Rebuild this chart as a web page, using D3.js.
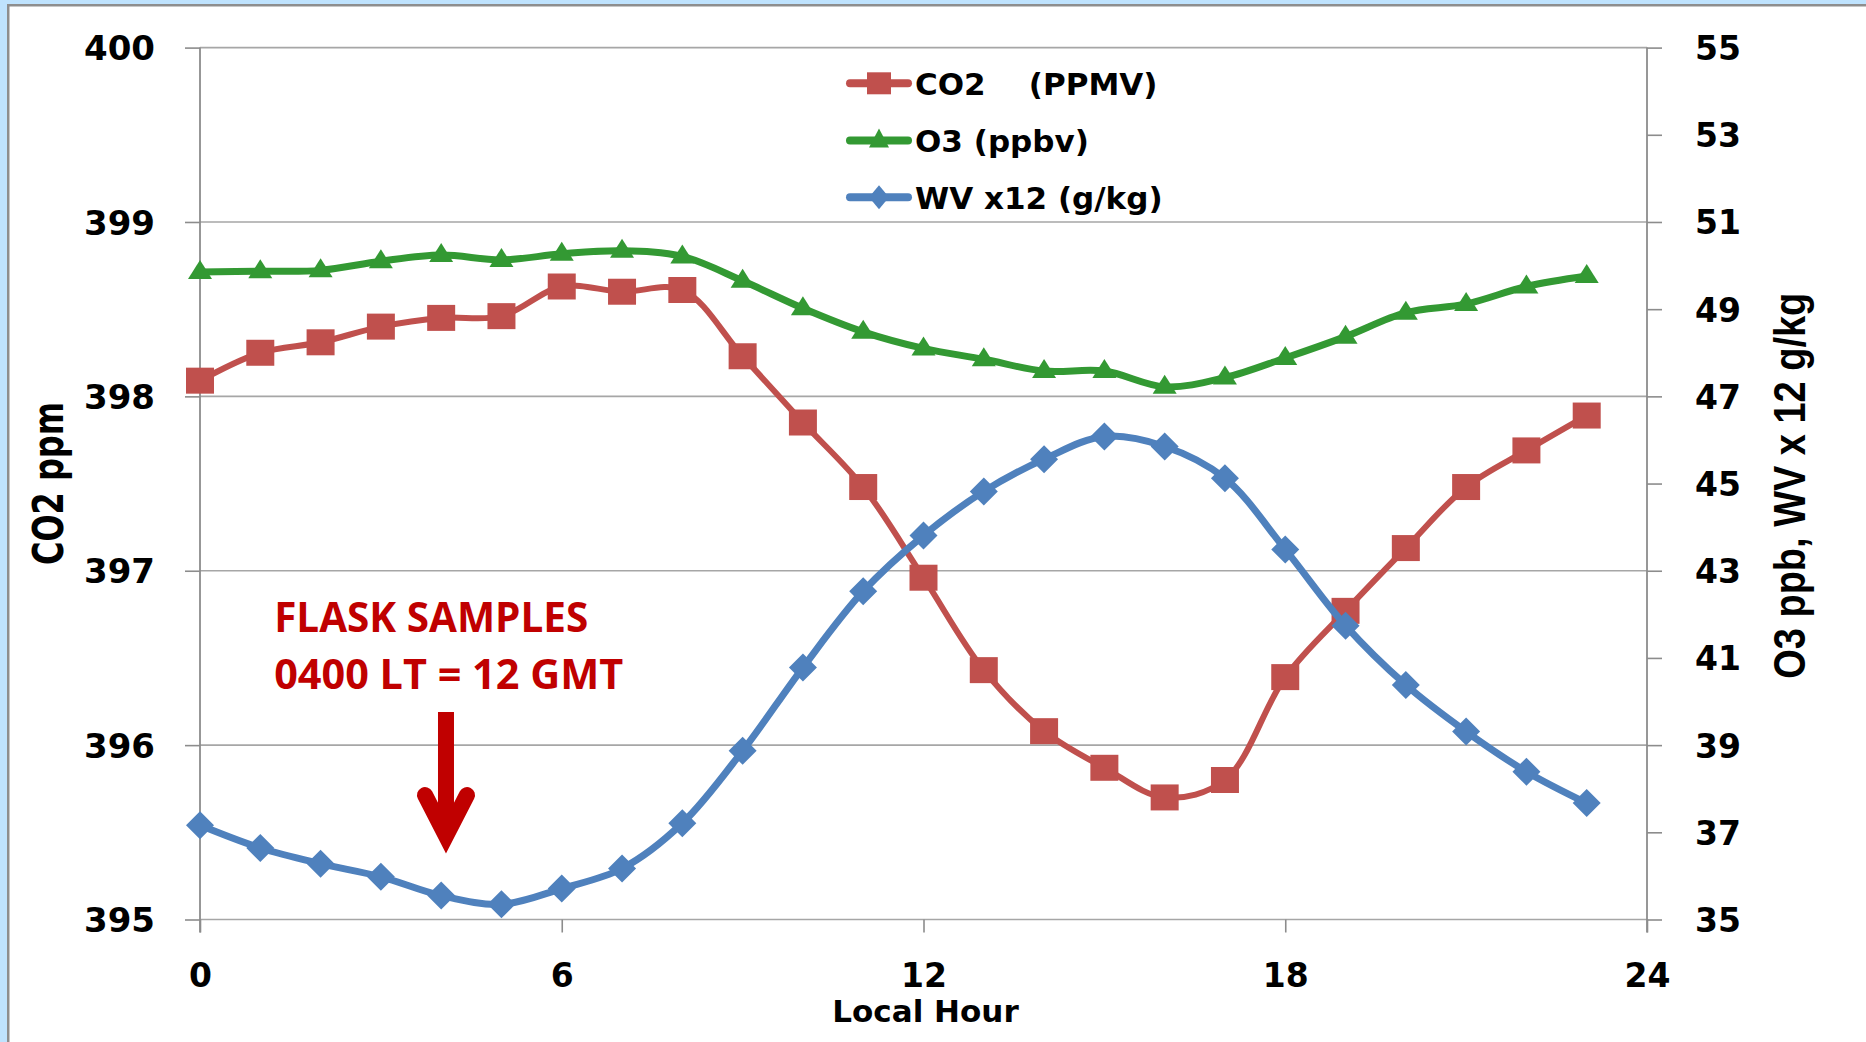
<!DOCTYPE html>
<meta charset="utf-8">
<style>
body { margin: 0; background: #fff; }
svg text { font-family: "DejaVu Sans", sans-serif; font-weight: bold; fill: #000; }
.grid line { stroke: #a6a6a6; stroke-width: 1.6px; }
.axis path { display: none; }
.axis line { stroke: #8c8c8c; stroke-width: 1.6px; }
.vline { stroke: #8c8c8c; stroke-width: 1.8px; }
</style>
<svg width="1866" height="1042"></svg>
<script src="https://d3js.org/d3.v7.min.js"></script>
<script>

// hourly means
var hours = [0, 1, 2, 3, 4, 5, 6, 7, 8, 9, 10, 11, 12, 13, 14, 15, 16, 17, 18, 19, 20, 21, 22, 23];
var co2 = [398.09, 398.25, 398.31, 398.40, 398.45, 398.46, 398.63, 398.60, 398.61, 398.23, 397.85, 397.48,
           396.96, 396.43, 396.08, 395.87, 395.70, 395.80, 396.39, 396.77, 397.13, 397.48, 397.69, 397.89];
var o3 = [49.85, 49.87, 49.89, 50.10, 50.24, 50.13, 50.27, 50.34, 50.21, 49.65, 49.02, 48.48,
          48.10, 47.85, 47.58, 47.58, 47.22, 47.43, 47.88, 48.37, 48.92, 49.12, 49.52, 49.76];
var wv = [37.16, 36.64, 36.28, 35.98, 35.55, 35.35, 35.71, 36.17, 37.21, 38.87, 40.78, 42.53,
          43.81, 44.82, 45.56, 46.08, 45.85, 45.12, 43.49, 41.74, 40.38, 39.31, 38.39, 37.67];

var leftTicks = [395, 396, 397, 398, 399, 400];
var rightTicks = [35, 37, 39, 41, 43, 45, 47, 49, 51, 53, 55];
var xTicks = [0, 6, 12, 18, 24];

var seriesNames = ["CO2    (PPMV)", "O3 (ppbv)", "WV x12 (g/kg)"];
var colors = ["#c0504d", "#339933", "#4f81bd"];

var svg = d3.select("svg");
var W = 1866, H = 1042;
var plotL = 200, plotR = 1647, plotT = 47.6, plotB = 919.5;

// slide frame
svg.append("rect").attr("width", W).attr("height", H).attr("fill", "#bfe3fe");
svg.append("rect").attr("x", 7).attr("y", 4).attr("width", W - 7).attr("height", H - 4).attr("fill", "#8e8e8e");
svg.append("rect").attr("x", 9.5).attr("y", 6.5).attr("width", W - 9.5).attr("height", H - 6.5).attr("fill", "#fff");

var x = d3.scaleLinear().domain([0, 24]).range([plotL, plotR]);
var yL = d3.scaleLinear().domain([395, 400]).range([plotB, plotT]);
var yR = d3.scaleLinear().domain([35, 55]).range([plotB, plotT]);

// horizontal gridlines
svg.append("g").attr("class", "grid")
  .selectAll("line").data(leftTicks).enter().append("line")
  .attr("x1", plotL).attr("x2", plotR)
  .attr("y1", function(d) { return yL(d); })
  .attr("y2", function(d) { return yL(d); });

// axis lines
svg.append("line").attr("class", "vline").attr("x1", plotL).attr("x2", plotL).attr("y1", plotT).attr("y2", plotB + 13);
svg.append("line").attr("class", "vline").attr("x1", plotR).attr("x2", plotR).attr("y1", plotT).attr("y2", plotB + 13);

var gl = svg.append("g").attr("class", "axis").attr("transform", "translate(" + plotL + ",0)")
  .call(d3.axisLeft(yL).tickValues(leftTicks).tickSize(15).tickPadding(30).tickFormat(d3.format("d")));
gl.selectAll("text").style("font-size", "34px").attr("dy", "0.36em");

var gr = svg.append("g").attr("class", "axis").attr("transform", "translate(" + plotR + ",0)")
  .call(d3.axisRight(yR).tickValues(rightTicks).tickSize(15).tickPadding(33).tickFormat(d3.format("d")));
gr.selectAll("text").style("font-size", "33px").attr("dy", "0.36em");

var gx = svg.append("g").attr("class", "axis").attr("transform", "translate(0," + plotB + ")")
  .call(d3.axisBottom(x).tickValues(xTicks).tickSize(13).tickFormat(d3.format("d")));
gx.selectAll("text").style("font-size", "33px").attr("dy", null).attr("y", 67.5);
svg.selectAll(".axis").attr("font-family", null).attr("font-size", null);

// axis titles
svg.append("text").attr("text-anchor", "middle")
  .attr("transform", "translate(62.5,483.5) scale(1.35,1) rotate(-90)")
  .style("font-size", "32px").text("CO2 ppm");

svg.append("text").attr("text-anchor", "middle")
  .attr("transform", "translate(1805,485.7) rotate(-90)")
  .attr("textLength", 386).attr("lengthAdjust", "spacingAndGlyphs")
  .style("font-family", "'Liberation Sans', Arial, sans-serif").style("font-size", "44px")
  .text("O3 ppb, WV x 12 g/kg");

svg.append("text").attr("text-anchor", "middle")
  .attr("x", x(12) + 2).attr("y", 1022)
  .style("font-size", "31px").text("Local Hour");

// marker shapes
function markerPath(kind) {
  if (kind === 0) return "M-14,-13H14V13H-14Z";
  if (kind === 1) return "M0,-12L12,7H-12Z";
  return "M0,-14L14,0L0,14L-14,0Z";
}
function legendMarker(kind) {
  if (kind === 0) return "M-12,-11H12V11H-12Z";
  if (kind === 1) return "M0,-12L10,7H-10Z";
  return "M0,-12L10,0L0,12L-10,0Z";
}

var line = d3.line().curve(d3.curveCatmullRom.alpha(0.5));

var series = [
  { values: co2, y: yL, width: 6 },
  { values: o3, y: yR, width: 7 },
  { values: wv, y: yR, width: 7 }
];

series.forEach(function(s, i) {
  var pts = hours.map(function(h, j) { return [x(h), s.y(s.values[j])]; });
  svg.append("path")
    .attr("d", line(pts))
    .attr("fill", "none")
    .attr("stroke", colors[i])
    .attr("stroke-width", s.width)
    .attr("stroke-linejoin", "round");
  svg.append("g").selectAll("path").data(pts).enter().append("path")
    .attr("transform", function(p) { return "translate(" + p[0] + "," + p[1] + ")"; })
    .attr("d", markerPath(i))
    .attr("fill", colors[i]);
});

// legend
var legendY = [83.3, 140.5, 197.3];
var lg = svg.append("g");
seriesNames.forEach(function(name, i) {
  var g = lg.append("g").attr("transform", "translate(0," + legendY[i] + ")");
  g.append("line").attr("x1", 850).attr("x2", 908).attr("y1", 0).attr("y2", 0)
    .attr("stroke", colors[i]).attr("stroke-width", 8).attr("stroke-linecap", "round");
  g.append("path").attr("transform", "translate(879,0)").attr("d", legendMarker(i)).attr("fill", colors[i]);
  g.append("text").attr("x", 915).attr("y", 11.5)
    .style("font-size", "31px").style("white-space", "pre").text(name);
});

// flask sample annotation
var red = "#c00000";
svg.append("text").attr("x", x(1.23)).attr("y", 631.5)
  .attr("textLength", 314).attr("lengthAdjust", "spacingAndGlyphs")
  .style("font-family", "'Open Sans', sans-serif").style("font-size", "41px").style("fill", red)
  .text("FLASK SAMPLES");
svg.append("text").attr("x", x(1.23)).attr("y", 688.6)
  .attr("textLength", 349).attr("lengthAdjust", "spacingAndGlyphs")
  .style("font-family", "'Open Sans', sans-serif").style("font-size", "41px").style("fill", red)
  .text("0400 LT = 12 GMT");

var ax = x(4.08);
svg.append("line").attr("x1", ax).attr("x2", ax).attr("y1", 712).attr("y2", 838)
  .attr("stroke", red).attr("stroke-width", 16);
svg.append("polyline")
  .attr("points", [[ax - 21, 795], [ax, 836], [ax + 21, 795]].map(function(p) { return p.join(","); }).join(" "))
  .attr("fill", "none").attr("stroke", red).attr("stroke-width", 16)
  .attr("stroke-linecap", "round").attr("stroke-linejoin", "miter");

</script>
